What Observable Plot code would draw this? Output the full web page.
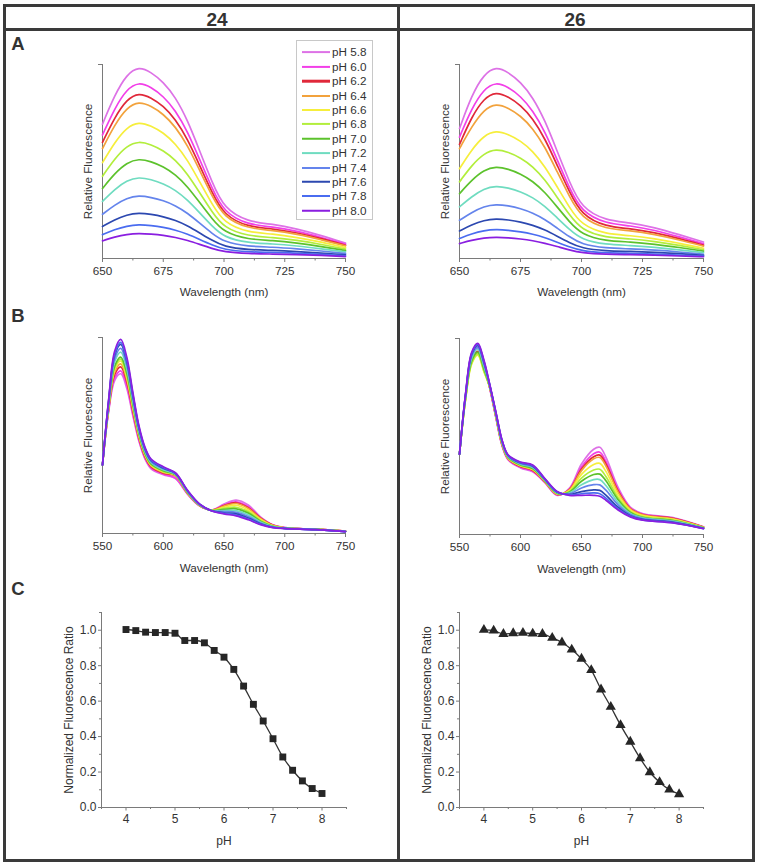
<!DOCTYPE html>
<html><head><meta charset="utf-8">
<script src="https://cdn.jsdelivr.net/npm/d3@7"></script>
<script src="https://cdn.jsdelivr.net/npm/@observablehq/plot@0.6"></script>
<style>
body{margin:0;background:#fff;}
#fig{position:relative;width:759px;height:868px;font-family:"Liberation Sans",Arial,sans-serif;color:#333;overflow:hidden;background:#fff;}
.bar{position:absolute;background:#3a3a3a;}
.hdr{position:absolute;font-weight:bold;font-size:19px;line-height:1;transform:translate(-50%,-50%);color:#333;}
.plabel{position:absolute;font-weight:bold;font-size:18.5px;line-height:1;transform:translate(-50%,-50%);color:#333;}
#legend{position:absolute;left:296px;top:40px;width:77px;height:180px;border:1px solid #c8c8c8;box-sizing:border-box;background:#fff;}
.lrow{position:absolute;left:0;height:14px;width:76px;}
.lline{position:absolute;left:5px;width:28px;top:50%;transform:translateY(-50%);}
.ltext{position:absolute;left:35px;top:50%;transform:translateY(-50%);font-size:11.7px;line-height:1;color:#333;white-space:nowrap;}
</style></head><body><div id="fig"></div>
<script>
// ---------- data ----------
const phLabels = ["pH 5.8","pH 6.0","pH 6.2","pH 6.4","pH 6.6","pH 6.8","pH 7.0","pH 7.2","pH 7.4","pH 7.6","pH 7.8","pH 8.0"];
const phColors = ["#dd72e6","#f23fe8","#e0283a","#f2a23c","#f6ee3c","#b2ee3c","#5cc22c","#6fdcc0","#6484ec","#2c48b0","#4a6cf0","#8a1ee0"];
const legendWidths = [1.8,2.2,2.6,2,2,2.2,2.5,1.8,2,2.5,2,2.5];

const wlA = [650,655,660,665,670,675,680,685,690,695,700,710,720,730,740,750];
const specA24 = [
  [69.3,84.2,95,99,96,91,83.2,71.3,55.4,39.6,25.7,18.8,17.8,15.3,11.9,7.9],
  [63.7,77.4,87.4,91,88.3,83.7,76.4,65.5,51,36.4,23.7,17.3,16.4,14.1,10.9,7.3],
  [59.9,72.7,82.1,85.5,82.9,78.7,71.8,61.6,47.9,34.2,22.2,16.2,15.4,13.3,10.3,6.8],
  [56.7,68.9,77.8,81,78.6,74.5,68,58.3,45.4,32.4,21.1,15.4,14.6,12.6,9.7,6.5],
  [49.4,59.9,67.7,70.5,68.4,64.9,59.2,50.8,39.5,28.2,18.3,13.4,12.7,10.9,8.5,5.6],
  [42.4,51.4,58.1,60.5,58.7,55.7,50.8,43.6,33.9,24.2,15.7,11.5,10.9,9.4,7.3,4.8],
  [36.1,43.8,49.4,51.5,50,47.4,43.3,37.1,28.8,20.6,13.4,9.8,9.3,8,6.2,4.1],
  [29.4,35.7,40.3,42,40.7,38.6,35.3,30.2,23.5,16.8,10.9,8,7.6,6.5,5,3.4],
  [22.8,27.6,31.2,32.5,31.5,29.9,27.3,23.4,18.2,13,8.5,6.2,5.9,5,3.9,2.6],
  [16.5,20,22.6,23.5,22.8,21.6,19.7,16.9,13.2,9.4,6.1,4.5,4.2,3.6,2.8,1.9],
  [12.3,14.9,16.8,17.5,17,16.1,14.7,12.6,9.8,7,4.6,3.3,3.2,2.7,2.1,1.4],
  [9.1,11.1,12.5,13,12.6,12,10.9,9.4,7.3,5.2,3.4,2.5,2.3,2,1.6,1.0]
];
const specA26 = [
  [67,84.2,95,99,96,91,83.2,71.3,55.4,39.6,26,19.5,18.5,16,12.3,8.5],
  [62.6,77.4,87.4,91,88.3,83.7,76.4,65.5,51,36.4,24,18,17,14.6,11.2,7.6],
  [58.8,73.1,82.6,86,83.4,79.1,72.2,61.9,48.2,34.4,22.4,16.3,15.5,13.3,10.3,6.9],
  [56.6,68,76.8,80,77.6,73.6,67.2,57.6,44.8,32,20.8,15.2,14.4,12.4,9.6,6.4],
  [46.3,56.1,63.4,66,64,60.7,55.4,47.5,37,26.4,17.2,12.5,11.9,10.2,7.9,5.3],
  [39.5,48,54.2,56.5,54.8,52,47.5,40.7,31.6,22.6,14.7,10.7,10.2,8.8,6.8,4.5],
  [33.4,40.4,45.6,47.5,46.1,43.7,39.9,34.2,26.6,19,12.4,9,8.6,7.4,5.7,3.8],
  [26.6,31.9,36,37.5,36.4,34.5,31.5,27,21,15,9.8,7.1,6.8,5.8,4.5,3],
  [19.7,23.8,26.9,28,27.2,25.8,23.5,20.2,15.7,11.2,7.3,5.3,5,4.3,3.4,2.2],
  [14.2,17.4,19.7,20.5,19.9,18.9,17.2,14.8,11.5,8.2,5.3,3.9,3.7,3.2,2.5,1.6],
  [10.3,12.8,14.4,15,14.6,13.8,12.6,10.8,8.4,6,3.9,2.9,2.7,2.3,1.8,1.2],
  [7.7,9.4,10.6,11,10.7,10.1,9.2,7.9,6.2,4.4,2.9,2.1,2,1.7,1.3,0.9]
];

const wlB24 = [550,555,560,565,570,575,580,585,590,600,610,620,630,640,650,660,670,680,690,700,725,750];
const specB24 = [
  [35,62,78,81.5,74,60,47,38,33,30,28,20,14,12,15,17,14.5,8.5,4.5,3,2.2,1.2],
  [35,62.5,79.4,83,75.4,61.1,47.7,38.5,33.5,30.4,28.3,20.2,14.1,12,14.5,16.2,13.7,8.1,4.4,3,2.2,1.2],
  [35,63.2,81,85,77.2,62.4,48.6,39.2,34,30.8,29.4,20.4,14.2,11.9,14.2,15.7,13.2,7.9,4.3,2.9,2.2,1.2],
  [35,63.7,82.4,86.5,78.6,63.5,49.3,39.7,34.5,31.2,29.6,20.6,14.3,11.9,14,15.3,12.8,7.7,4.2,2.9,2.2,1.2],
  [35,64.2,83.6,88,79.9,64.4,50,40.2,34.9,31.5,29.7,20.7,14.4,11.8,13.4,14.4,11.9,7.2,4,2.8,2.1,1.1],
  [35,64.6,84.5,89,80.9,65.2,50.4,40.6,35.2,31.7,29.9,20.9,14.4,11.8,12.8,13.4,11.1,6.7,3.8,2.8,2.1,1.1],
  [35,64.9,85.3,90,81.8,65.9,50.9,40.9,35.5,32,30,21,14.5,11.7,12.3,12.6,10.4,6.3,3.7,2.7,2.1,1.1],
  [35,65.8,87.5,92.5,84.1,67.6,52,41.8,36.2,32.5,30.3,21.3,14.6,11.7,11.7,11.7,9.6,5.9,3.5,2.7,2.1,1.1],
  [35,66.4,89.1,94.5,85.8,68.9,52.9,42.4,36.7,33,30.5,21.5,14.7,11.6,11.2,10.8,8.7,5.4,3.3,2.6,2,1],
  [35,67.2,90.9,96.5,87.8,70.3,53.9,43.2,37.3,33.4,30.7,21.7,14.9,11.6,10.6,10,7.9,5,3.2,2.6,2,1],
  [35,67.5,91.7,97.5,88.6,71,54.3,43.5,37.6,33.7,30.8,21.8,14.9,11.5,10.3,9.4,7.4,4.7,3.1,2.5,2,1],
  [35,68,93,99,90,72,55,44,38,34,31,22,15,11.5,10,9,7,4.5,3,2.5,2,1]
];

const wlB26 = [550,555,560,565,570,575,580,585,590,600,610,620,630,640,650,660,665,670,680,690,700,725,750];
const specB26 = [
  [41,71.2,91.5,96,87.5,74,59,45,38,34,32,26.5,20,23.5,36,43.5,44.5,39.5,24,14,10.7,8.6,3.9],
  [41,70.8,90.5,95,86.5,74.2,59.3,45.3,38.2,34.3,32.3,26.7,20.2,23.2,34.4,41.2,42,37.3,22.9,13.5,10.4,8.3,3.8],
  [41,70,89,93.5,85,74.4,59.6,45.6,38.5,34.6,32.7,26.9,20.4,22.9,33.4,39.7,40.5,36,22.2,13.2,10.2,8.2,3.8],
  [41,69.5,88,92.5,84,74.6,59.9,45.9,38.7,34.9,33,27.1,20.6,22.8,32.6,38.6,39.3,34.9,21.6,13,10,8,3.7],
  [41,69,87,91.5,83,74.7,60.1,46.1,38.9,35.1,33.3,27.2,20.7,22.3,30.7,35.7,36.3,32.2,20.2,12.4,9.6,7.7,3.6],
  [41,69.2,87.5,92,83.5,74.9,60.3,46.3,39.1,35.3,33.5,27.4,20.9,21.9,28.8,32.9,33.3,29.6,18.8,11.8,9.2,7.4,3.5],
  [41,69.8,88.5,93,84.5,75,60.5,46.5,39.2,35.5,33.7,27.5,21,21.6,27.2,30.6,30.8,27.4,17.7,11.3,8.8,7.1,3.4],
  [41,70.5,90,94.5,86,75.3,60.9,46.9,39.6,35.9,34.2,27.8,21.3,21.2,25.4,28,28,25,16.4,10.7,8.5,6.8,3.3],
  [41,71,91,95.5,87,75.5,61.2,47.2,39.9,36.2,34.6,28,21.5,20.8,23.7,25.4,25.3,22.6,15.1,10.2,8.1,6.5,3.2],
  [41,71.5,92,96.5,88,75.7,61.6,47.6,40.2,36.6,35,28.2,21.7,20.4,21.9,22.8,22.5,20.1,13.9,9.6,7.7,6.2,3.1],
  [41,71.8,92.5,97,88.5,75.8,61.7,47.7,40.3,36.7,35.2,28.3,21.8,20.2,20.8,21.2,20.8,18.6,13.1,9.3,7.5,6,3],
  [41,72,93,97.5,89,76,62,48,40.5,37,35.5,28.5,22,20,20,20,19.5,17.5,12.5,9,7.3,5.9,3]
];

const phC = [4.0,4.2,4.4,4.6,4.8,5.0,5.2,5.4,5.6,5.8,6.0,6.2,6.4,6.6,6.8,7.0,7.2,7.4,7.6,7.8,8.0];
const ratio24 = [1.004,0.998,0.989,0.987,0.987,0.983,0.942,0.942,0.929,0.886,0.848,0.779,0.685,0.582,0.488,0.388,0.285,0.210,0.150,0.107,0.079];
const ratio26 = [1.002,0.998,0.979,0.983,0.985,0.981,0.979,0.957,0.931,0.891,0.839,0.775,0.666,0.568,0.465,0.371,0.278,0.199,0.143,0.101,0.075];

const headers = ["24","26"];
const panelLetters = ["A","B","C"];
const ticksA = [650,675,700,725,750], minorA = [662.5,687.5,712.5,737.5];
const ticksB = [550,600,650,700,750], minorB = [575,625,675,725];
const ticksCx = [4,5,6,7,8], minorCx = [3.5,4.5,5.5,6.5,7.5,8.5];
const ticksCy = [0,0.2,0.4,0.6,0.8,1.0], minorCy = [0.1,0.3,0.5,0.7,0.9,1.1];

// ---------- layout helpers ----------
const fig = document.getElementById("fig");
function addDiv(cls, style, text){
  const d = document.createElement("div");
  if (cls) d.className = cls;
  Object.assign(d.style, style);
  if (text != null) d.textContent = text;
  fig.appendChild(d);
  return d;
}
const FONT = '"Liberation Sans", Arial, sans-serif';
const AX = "#7a7a7a";

function longTable(wl, rows){
  return rows.flatMap((row, i) => row.map((v, j) => ({wl: wl[j], v, ph: phLabels[i]})));
}

function makePlot(rect, xDomain, yDomain, marks){
  const mL = 70, mR = 20, mT = 20, mB = 50;
  const W = rect.r - rect.l + mL + mR, H = rect.b - rect.t + mT + mB;
  const p = Plot.plot({
    width: W, height: H, marginLeft: mL, marginRight: mR, marginTop: mT, marginBottom: mB,
    x: {domain: xDomain}, y: {domain: yDomain},
    color: {domain: phLabels, range: phColors},
    style: {fontFamily: FONT, fontSize: "11.7px", color: "#333", background: "transparent", overflow: "visible"},
    marks
  });
  p.style.position = "absolute";
  p.style.left = (rect.l - mL) + "px";
  p.style.top = (rect.t - mT) + "px";
  fig.appendChild(p);
}

function spectrum(rect, wl, rows, xDomain, ticks, minor, labelOffX, curve){
  makePlot(rect, xDomain, [0, 100], [
    Plot.ruleY([0], {stroke: AX, strokeWidth: 1}),
    Plot.ruleX([xDomain[0]], {stroke: AX, strokeWidth: 1}),
    Plot.axisY({ticks: [100], tickSize: 4, tickFormat: () => "", stroke: AX,
      label: "Relative Fluorescence", labelAnchor: "center", labelArrow: "none", labelOffset: 19, fontSize: 11.7, fill: "#333"}),
    Plot.axisX({ticks, tickSize: 4, tickPadding: 4, stroke: AX, fill: "#333", fontSize: 11.7,
      label: "Wavelength (nm)", labelAnchor: "center", labelArrow: "none", labelOffset: labelOffX}),
    Plot.axisX({ticks: minor, tickSize: 2.5, tickFormat: () => "", stroke: AX, label: null}),
    Plot.line(longTable(wl, rows), {x: "wl", y: "v", z: "ph", stroke: "ph", strokeWidth: 1.7, curve})
  ]);
}

function ratioPlot(rect, ys, symbol, r){
  const data = phC.map((x, i) => ({x, y: ys[i]}));
  makePlot(rect, [3.5, 8.5], [0, 1.1], [
    Plot.ruleY([0], {stroke: AX, strokeWidth: 1}),
    Plot.ruleX([3.5], {stroke: AX, strokeWidth: 1}),
    Plot.axisY({ticks: ticksCy, tickSize: 3, tickPadding: 2, tickFormat: d3.format(".1f"), stroke: AX, fill: "#333", fontSize: 12,
      label: "Normalized Fluorescence Ratio", labelAnchor: "center", labelArrow: "none", labelOffset: 37}),
    Plot.axisY({ticks: minorCy, tickSize: 2, tickFormat: () => "", stroke: AX, label: null}),
    Plot.axisX({ticks: ticksCx, tickSize: 3.5, tickPadding: 3, tickFormat: d3.format("d"), stroke: AX, fill: "#333", fontSize: 12,
      label: "pH", labelAnchor: "center", labelArrow: "none", labelOffset: 37}),
    Plot.axisX({ticks: minorCx, tickSize: 2, tickFormat: () => "", stroke: AX, label: null}),
    Plot.line(data, {x: "x", y: "y", stroke: "#333", strokeWidth: 1.3, curve: "monotone-x"}),
    Plot.dot(data, {x: "x", y: "y", symbol, r, fill: "#262626", stroke: "none"})
  ]);
}

// ---------- frame ----------
addDiv("bar", {left: "3px", top: "4px", width: "752px", height: "3px"});
addDiv("bar", {left: "3px", top: "859px", width: "752px", height: "3px"});
addDiv("bar", {left: "3px", top: "4px", width: "3px", height: "858px"});
addDiv("bar", {left: "752px", top: "4px", width: "3px", height: "858px"});
addDiv("bar", {left: "3px", top: "28px", width: "752px", height: "2.5px"});
addDiv("bar", {left: "397px", top: "4px", width: "2.5px", height: "858px"});
addDiv("hdr", {left: "217px", top: "18.5px"}, headers[0]);
addDiv("hdr", {left: "575px", top: "18.5px"}, headers[1]);
addDiv("plabel", {left: "18px", top: "44px"}, panelLetters[0]);
addDiv("plabel", {left: "18px", top: "316px"}, panelLetters[1]);
addDiv("plabel", {left: "18px", top: "589px"}, panelLetters[2]);

// ---------- panels ----------
spectrum({l: 102, r: 345, t: 64, b: 258}, wlA, specA24, [650, 750], ticksA, minorA, 37, "basis");
spectrum({l: 459, r: 703, t: 64, b: 258}, wlA, specA26, [650, 750], ticksA, minorA, 37, "basis");
spectrum({l: 102, r: 345, t: 337, b: 533}, wlB24, specB24, [550, 750], ticksB, minorB, 38, "catmull-rom");
spectrum({l: 459, r: 703, t: 338, b: 534}, wlB26, specB26, [550, 750], ticksB, minorB, 38, "catmull-rom");
ratioPlot({l: 101, r: 346, t: 612, b: 807}, ratio24, "square", 3.9);
ratioPlot({l: 459, r: 703, t: 612, b: 807}, ratio26, "triangle", 3.8);

// ---------- legend ----------
const leg = document.createElement("div");
leg.id = "legend";
fig.appendChild(leg);
phLabels.forEach((lab, i) => {
  const row = document.createElement("div");
  row.className = "lrow";
  row.style.top = (4.3 + i * 14.4) + "px";
  const ln = document.createElement("div");
  ln.className = "lline";
  ln.style.height = legendWidths[i] + "px";
  ln.style.background = phColors[i];
  const tx = document.createElement("div");
  tx.className = "ltext";
  tx.textContent = lab;
  row.appendChild(ln); row.appendChild(tx);
  leg.appendChild(row);
});
</script></body></html>
